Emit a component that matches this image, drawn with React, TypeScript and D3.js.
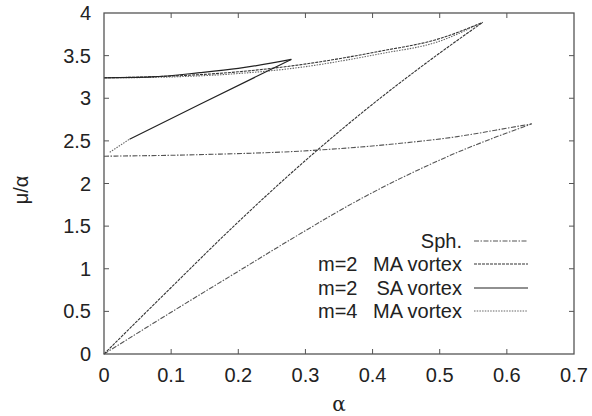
import React from "react";
import * as d3 from "d3";

// tick values
const xTicks = [0, 0.1, 0.2, 0.3, 0.4, 0.5, 0.6, 0.7];
const yTicks = [0, 0.5, 1, 1.5, 2, 2.5, 3, 3.5, 4];

// Sph. (two branches)
const sphLower: [number, number][] = [
  [0, 0], [0.1, 0.49], [0.2, 0.97], [0.29, 1.4], [0.38, 1.81], [0.51, 2.31], [0.637, 2.7],
];
const sphUpper: [number, number][] = [
  [0, 2.32], [0.15, 2.34], [0.293, 2.38], [0.427, 2.46], [0.526, 2.55], [0.601, 2.65], [0.637, 2.7],
];

// m=2 MA vortex
const ma2Lower: [number, number][] = [
  [0, 0], [0.1, 0.78], [0.2, 1.55], [0.3, 2.27], [0.4, 2.93], [0.5, 3.53], [0.564, 3.89],
];
const ma2Upper: [number, number][] = [
  [0, 3.24], [0.1, 3.26], [0.2, 3.31], [0.28, 3.38], [0.41, 3.55], [0.5, 3.7], [0.564, 3.89],
];

// m=2 SA vortex
const sa2Upper: [number, number][] = [
  [0, 3.24], [0.07, 3.25], [0.143, 3.3], [0.2, 3.35], [0.279, 3.456],
];
const sa2Lower: [number, number][] = [
  [0.038, 2.52], [0.143, 2.93], [0.279, 3.456],
];

// m=4 MA vortex
const ma4Upper: [number, number][] = [
  [0.02, 3.24], [0.1, 3.25], [0.2, 3.29], [0.28, 3.35], [0.41, 3.52], [0.5, 3.67], [0.558, 3.87],
];
const ma4Lower: [number, number][] = [
  [0.0085, 2.366], [0.038, 2.52],
];

// legend: mode prefix + description
const legendPrefix = ["", "m=2", "m=2", "m=4"];
const legendText = ["Sph.", "MA vortex", "SA vortex", "MA vortex"];

const W = 592;
const H = 416;
const left = 104;
const right = 574;
const top = 13;
const bottom = 354;
const font = "'Liberation Sans', Arial, Helvetica, sans-serif";
const fs = 20;

const styles = [
  { stroke: "#555", dash: "5,1.5,1.5,1.5", width: 1.1 },
  { stroke: "#333", dash: "3,1", width: 1.1 },
  { stroke: "#222", dash: "none", width: 1.2 },
  { stroke: "#666", dash: "1.5,1.2", width: 1.1 },
];

export default function App() {
  const x = d3.scaleLinear().domain([0, 0.7]).range([left, right]);
  const y = d3.scaleLinear().domain([0, 4]).range([bottom, top]);
  const line = d3
    .line<[number, number]>()
    .x((d) => x(d[0]))
    .y((d) => y(d[1]))
    .curve(d3.curveMonotoneX);

  const series = [
    { data: [sphLower, sphUpper], s: styles[0] },
    { data: [ma2Lower, ma2Upper], s: styles[1] },
    { data: [ma4Upper, ma4Lower], s: styles[3] },
    { data: [sa2Upper, sa2Lower], s: styles[2] },
  ];

  const tick = 5;
  const legX = 462;
  const legY = [241, 264, 288, 311];

  return (
    <svg
      width={W}
      height={H}
      style={{ position: "absolute", left: 0, top: 0, background: "#fff" }}
      fontFamily={font}
    >
      {/* curves */}
      {series.map((sr, i) =>
        sr.data.map((d, j) => (
          <path
            key={`${i}-${j}`}
            d={line(d) || ""}
            fill="none"
            stroke={sr.s.stroke}
            strokeWidth={sr.s.width}
            strokeDasharray={sr.s.dash}
          />
        ))
      )}

      {/* frame */}
      <rect
        x={left}
        y={top}
        width={right - left}
        height={bottom - top}
        fill="none"
        stroke="#555"
        strokeWidth={1.3}
      />

      {/* x ticks */}
      {xTicks.map((t) => (
        <g key={`x${t}`}>
          {t > 0 && t < 0.7 && (
            <>
              <line x1={x(t)} x2={x(t)} y1={bottom} y2={bottom - tick} stroke="#555" />
              <line x1={x(t)} x2={x(t)} y1={top} y2={top + tick} stroke="#555" />
            </>
          )}
          <text x={x(t)} y={382} textAnchor="middle" fontSize={fs} fill="#222">
            {d3.format("")(t)}
          </text>
        </g>
      ))}

      {/* y ticks */}
      {yTicks.map((t) => (
        <g key={`y${t}`}>
          {t > 0 && t < 4 && (
            <>
              <line x1={left} x2={left + tick} y1={y(t)} y2={y(t)} stroke="#555" />
              <line x1={right} x2={right - tick} y1={y(t)} y2={y(t)} stroke="#555" />
            </>
          )}
          <text x={91} y={y(t) + 7} textAnchor="end" fontSize={fs} fill="#222">
            {d3.format("")(t)}
          </text>
        </g>
      ))}

      {/* axis titles */}
      <text x={339} y={411} textAnchor="middle" fontSize={fs} fill="#222" fontFamily="'DejaVu Serif', serif">
        α
      </text>
      <text
        transform="translate(28,190) rotate(-90)"
        textAnchor="middle"
        fontSize={fs}
        fill="#222"
      >
        μ/α
      </text>

      {/* legend */}
      {legendText.map((lab, i) => (
        <g key={i}>
          {legendPrefix[i] && (
            <text x={318} y={legY[i] + 7} fontSize={fs} fill="#222">
              {legendPrefix[i]}
            </text>
          )}
          <text x={legX} y={legY[i] + 7} textAnchor="end" fontSize={fs} fill="#222">
            {lab}
          </text>
          <line
            x1={474}
            x2={528}
            y1={legY[i]}
            y2={legY[i]}
            stroke={styles[i].stroke}
            strokeWidth={styles[i].width}
            strokeDasharray={styles[i].dash}
          />
        </g>
      ))}
    </svg>
  );
}
